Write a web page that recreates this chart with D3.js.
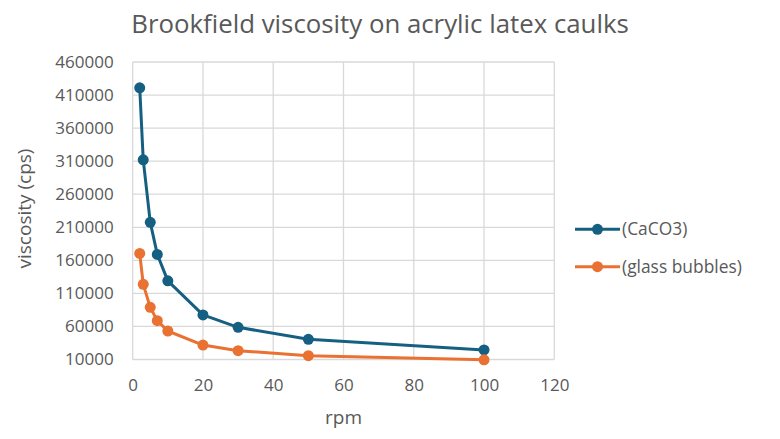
<!DOCTYPE html>
<html>
<head>
<meta charset="utf-8">
<script src="https://cdn.jsdelivr.net/npm/d3@7"></script>
<style>
html,body{margin:0;padding:0;background:#fff;}
svg{display:block;font-family:"Open Sans","Noto Sans",sans-serif;}
</style>
</head>
<body>
<svg id="chart" width="780" height="439"></svg>
<script>
const title = "Brookfield viscosity on acrylic latex caulks";
const xLabel = "rpm";
const yLabel = "viscosity (cps)";
const rpm = [2, 3, 5, 7, 10, 20, 30, 50, 100];
const caco3 = [421000, 312000, 217500, 169000, 129000, 77500, 58700, 40500, 24400];
const glassBubbles = [170500, 123700, 88900, 68700, 53100, 31900, 23300, 15700, 9500];
const seriesNames = ["(CaCO3)", "(glass bubbles)"];
const seriesColors = ["#156082", "#E97132"];
const xTicks = [0, 20, 40, 60, 80, 100, 120];
const yTicks = [10000, 60000, 110000, 160000, 210000, 260000, 310000, 360000, 410000, 460000];

const svg = d3.select("#chart");
const pLeft = 132.7, pRight = 554.3, pTop = 62, pBottom = 359.5;
const x = d3.scaleLinear().domain([0, 120]).range([pLeft, pRight]);
const y = d3.scaleLinear().domain([10000, 460000]).range([pBottom, pTop]);
const textColor = "#595959", gridColor = "#d9d9d9";

// gridlines
svg.append("g").selectAll("line").data(yTicks).join("line")
  .attr("x1", pLeft).attr("x2", pRight)
  .attr("y1", d => y(d)).attr("y2", d => y(d))
  .attr("stroke", gridColor).attr("stroke-width", 1.3);
svg.append("g").selectAll("line").data(xTicks).join("line")
  .attr("x1", d => x(d)).attr("x2", d => x(d))
  .attr("y1", pTop).attr("y2", pBottom)
  .attr("stroke", gridColor).attr("stroke-width", 1.3);

// axes (labels only)
const yAxis = d3.axisLeft(y).tickValues(yTicks).tickSize(0).tickPadding(19).tickFormat(d3.format("d"));
const gy = svg.append("g").attr("transform", `translate(${pLeft},0)`).call(yAxis);
gy.select(".domain").remove();
gy.selectAll("text").attr("fill", textColor).style("font-size", "17px").style("font-family", '"Open Sans",sans-serif');

const xAxis = d3.axisBottom(x).tickValues(xTicks).tickSize(0).tickPadding(19).tickFormat(d3.format("d"));
const gx = svg.append("g").attr("transform", `translate(0,${pBottom})`).call(xAxis);
gx.select(".domain").remove();
gx.selectAll("text").attr("fill", textColor).style("font-size", "17px").style("font-family", '"Open Sans",sans-serif');

// series
const series = [caco3, glassBubbles];
const line = d3.line().x((d, i) => x(rpm[i])).y(d => y(d));
series.forEach((vals, si) => {
  svg.append("path").datum(vals)
    .attr("d", line).attr("fill", "none")
    .attr("stroke", seriesColors[si]).attr("stroke-width", 3)
    .attr("stroke-linejoin", "round");
  svg.append("g").selectAll("circle").data(vals).join("circle")
    .attr("cx", (d, i) => x(rpm[i])).attr("cy", d => y(d))
    .attr("r", 5.5).attr("fill", seriesColors[si]);
});

// title
svg.append("text").attr("x", 380).attr("y", 33)
  .attr("text-anchor", "middle").attr("fill", textColor)
  .style("font-size", "25.8px").text(title);

// axis titles
svg.append("text").attr("x", x(60)).attr("y", 424)
  .attr("text-anchor", "middle").attr("fill", textColor)
  .style("font-size", "19px").text(xLabel);
svg.append("text").attr("transform", `translate(31,${(147 + 270) / 2}) rotate(-90)`)
  .attr("text-anchor", "middle").attr("fill", textColor)
  .style("font-size", "19px").text(yLabel);

// legend
const legY = [229.3, 266.7];
seriesNames.forEach((name, i) => {
  const g = svg.append("g");
  g.append("line").attr("x1", 575).attr("x2", 620).attr("y1", legY[i]).attr("y2", legY[i])
    .attr("stroke", seriesColors[i]).attr("stroke-width", 3);
  g.append("circle").attr("cx", 597.5).attr("cy", legY[i]).attr("r", 5.5).attr("fill", seriesColors[i]);
  g.append("text").attr("x", 622).attr("y", legY[i]).attr("dy", "0.35em")
    .attr("fill", textColor).style("font-size", "17.4px").text(name);
});
</script>
</body>
</html>
